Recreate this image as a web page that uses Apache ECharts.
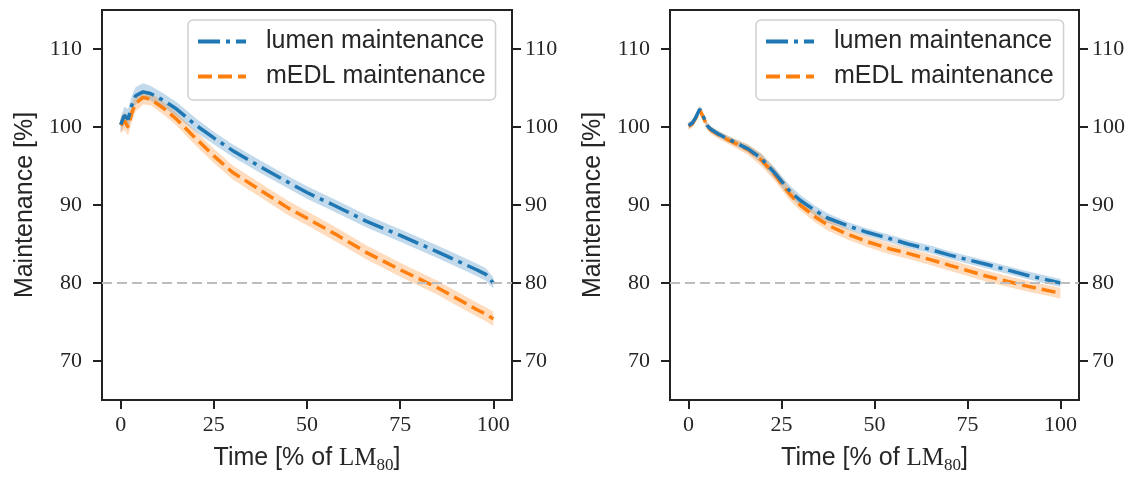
<!DOCTYPE html>
<html><head><meta charset="utf-8">
<script src="https://cdn.jsdelivr.net/npm/echarts@6/dist/echarts.min.js"></script>
<style>html,body{margin:0;padding:0;background:#fff}#c{width:1135px;height:479px}</style>
</head><body><div id="c"></div>
<script>
// ---------- data ----------
const xTicks = [0, 25, 50, 75, 100];
const yTicks = [70, 80, 90, 100, 110];
const threshold = 80;
const seriesNames = ['lumen maintenance', 'mEDL maintenance'];

// left panel
const timeL   = [0, 1, 2, 3, 4, 6, 8, 11.5, 15, 20, 25, 30, 37.5, 45, 50, 57.5, 66, 75, 85, 95.5, 98, 100];
const lumenL  = [100.3, 101.5, 101.0, 102.8, 104.0, 104.5, 104.3, 103.4, 102.3, 100.3, 98.6, 97.0, 94.9, 92.9, 91.6, 89.9, 87.9, 86.1, 84.0, 81.7, 81.1, 80.0];
const lumenLoL= [99.3, 100.3, 99.6, 101.6, 102.9, 103.5, 103.4, 102.5, 101.4, 99.4, 97.8, 96.2, 94.1, 92.1, 90.8, 89.1, 87.1, 85.3, 83.2, 80.9, 80.3, 79.3];
const lumenHiL= [101.2, 102.6, 102.3, 104.0, 105.1, 105.6, 105.3, 104.3, 103.2, 101.2, 99.4, 97.8, 95.7, 93.7, 92.4, 90.7, 88.7, 86.9, 84.8, 82.5, 81.9, 80.7];
const edlL    = [100.2, 100.8, 100.0, 101.8, 103.0, 103.8, 103.6, 102.4, 101.0, 98.6, 96.3, 94.2, 91.9, 89.6, 88.3, 86.3, 83.9, 81.7, 79.4, 76.6, 76.0, 75.4];
const edlLoL  = [99.2, 99.6, 98.9, 100.7, 102.0, 102.9, 102.8, 101.6, 100.2, 97.7, 95.4, 93.3, 91.0, 88.7, 87.4, 85.4, 83.0, 80.8, 78.5, 75.7, 75.1, 74.5];
const edlHiL  = [101.2, 101.9, 101.2, 102.9, 104.0, 104.7, 104.4, 103.2, 101.8, 99.5, 97.2, 95.1, 92.8, 90.5, 89.2, 87.2, 84.8, 82.6, 80.3, 77.5, 76.9, 76.3];

// right panel
const timeR   = [0, 1, 2, 3, 4, 5, 6, 8, 10, 13, 16, 19.5, 23, 27, 30, 34, 37.5, 43, 48, 54, 59, 65, 70, 80, 91, 100];
const lumenR  = [100.2, 100.5, 101.3, 102.3, 101.3, 100.2, 99.7, 99.1, 98.6, 97.9, 97.2, 96.0, 94.2, 91.9, 90.6, 89.3, 88.3, 87.3, 86.5, 85.7, 85.0, 84.3, 83.6, 82.4, 81.0, 80.0];
const lumenLoR= [99.8, 100.1, 100.9, 101.9, 100.9, 99.8, 99.3, 98.7, 98.2, 97.5, 96.7, 95.4, 93.5, 91.2, 89.9, 88.7, 87.7, 86.8, 86.0, 85.2, 84.5, 83.8, 83.1, 81.9, 80.5, 79.5];
const lumenHiR= [100.6, 100.9, 101.7, 102.7, 101.7, 100.6, 100.1, 99.5, 99.0, 98.3, 97.7, 96.6, 94.9, 92.6, 91.3, 89.9, 88.9, 87.8, 87.0, 86.2, 85.5, 84.8, 84.1, 82.9, 81.5, 80.5];
const edlR    = [100.1, 100.4, 101.2, 102.2, 101.2, 100.1, 99.6, 99.0, 98.5, 97.8, 97.1, 95.8, 94.0, 91.5, 90.0, 88.5, 87.4, 86.2, 85.3, 84.4, 83.8, 83.0, 82.3, 80.9, 79.6, 78.7];
const edlLoR  = [99.6, 99.9, 100.7, 101.7, 100.7, 99.6, 99.1, 98.5, 98.0, 97.2, 96.4, 95.0, 93.2, 90.7, 89.3, 87.8, 86.7, 85.5, 84.6, 83.7, 83.1, 82.3, 81.6, 80.2, 78.9, 78.0];
const edlHiR  = [100.6, 100.9, 101.7, 102.7, 101.7, 100.6, 100.1, 99.5, 99.0, 98.4, 97.8, 96.6, 94.8, 92.3, 90.7, 89.2, 88.1, 86.9, 86.0, 85.1, 84.5, 83.7, 83.0, 81.6, 80.3, 79.4];

// ---------- styling ----------
const BLUE = '#1f77b4', ORANGE = '#ff7f0e';
const SERIF = '"Liberation Serif", serif';
const SANS = '"Liberation Sans", Arial, sans-serif';
const TXT = '#262626';
const panels = [
  {t: timeL, lu: lumenL, luLo: lumenLoL, luHi: lumenHiL, ed: edlL, edLo: edlLoL, edHi: edlHiL, left: 102, width: 410, legendLeft: 188},
  {t: timeR, lu: lumenR, luLo: lumenLoR, luHi: lumenHiR, ed: edlR, edLo: edlLoR, edHi: edlHiR, left: 670, width: 409, legendLeft: 756}
];
const blueIcon = 'path://M0,0H22V4H0Z M28,0H32V4H28Z M38,0H48V4H38Z';
const orangeIcon = 'path://M0,0H14V4H0Z M20,0H34V4H20Z M40,0H48V4H40Z';

const pairs = (xs, ys) => xs.map((x, i) => [x, ys[i]]);

const grids = [], xAxes = [], yAxes = [], series = [], legends = [];
panels.forEach((p, gi) => {
  grids.push({left: p.left, top: 10, width: p.width, height: 395, show: true,
    borderColor: '#222', borderWidth: 2, backgroundColor: 'transparent', containLabel: false});
  xAxes.push({
    type: 'value', gridIndex: gi, min: -5, max: 105,
    axisLine: {show: true, onZero: false, lineStyle: {color: '#222', width: 2}},
    axisTick: {show: true, inside: false, length: 9, lineStyle: {color: '#222', width: 2}, customValues: xTicks},
    axisLabel: {show: true, customValues: xTicks, margin: 14, fontFamily: SERIF, fontSize: 22, color: TXT},
    splitLine: {show: false},
    name: '{a|Time [% of }{b|LM}{c|80}{a|]}', nameLocation: 'middle', nameGap: 42,
    nameTextStyle: {rich: {
      a: {fontFamily: SANS, fontSize: 25, color: TXT, lineHeight: 32},
      b: {fontFamily: SERIF, fontSize: 25, color: TXT, lineHeight: 32},
      c: {fontFamily: SERIF, fontSize: 17, color: TXT, lineHeight: 18, verticalAlign: 'bottom'}
    }}
  });
  ['left', 'right'].forEach(pos => {
    yAxes.push({
      type: 'value', gridIndex: gi, position: pos, min: 65, max: 115,
      axisLine: {show: true, onZero: false, lineStyle: {color: '#222', width: 2}},
      axisTick: {show: true, inside: false, length: 9, lineStyle: {color: '#222', width: 2}, customValues: yTicks},
      axisLabel: {show: true, customValues: yTicks, margin: pos === 'left' ? 20 : 13, fontFamily: SERIF, fontSize: 22, color: TXT},
      splitLine: {show: false},
      name: pos === 'left' ? 'Maintenance [%]' : '', nameLocation: 'middle', nameGap: 64,
      nameTextStyle: {fontFamily: SANS, fontSize: 25, color: TXT}
    });
  });
  const yi = 2 * gi;
  // confidence band drawn as one polygon through the axis scales
  const band = (xs, lo, hi, color) => ({
    type: 'custom', xAxisIndex: gi, yAxisIndex: yi, silent: true, z: 1, clip: true,
    data: xs.map((x, i) => [x, lo[i], hi[i]]),
    encode: {x: 0, y: [1, 2]},
    renderItem: (params, api) => {
      if (params.dataIndex !== 0) return null;
      const pts = [];
      for (let i = 0; i < xs.length; i++) pts.push(api.coord([xs[i], hi[i]]));
      for (let i = xs.length - 1; i >= 0; i--) pts.push(api.coord([xs[i], lo[i]]));
      return {type: 'polygon', shape: {points: pts}, style: {fill: color}};
    }
  });
  series.push(band(p.t, p.luLo, p.luHi, 'rgba(31,119,180,0.27)'));
  series.push(band(p.t, p.edLo, p.edHi, 'rgba(255,127,14,0.27)'));
  series.push({
    type: 'line', name: seriesNames[1], xAxisIndex: gi, yAxisIndex: yi, data: pairs(p.t, p.ed),
    symbol: 'none', itemStyle: {color: ORANGE}, lineStyle: {color: ORANGE, width: 3.5, type: [14, 6]}, z: 3,
    markLine: {silent: true, symbol: 'none', label: {show: false}, animation: false,
      lineStyle: {color: '#bdbdbd', type: [10, 5], width: 2}, data: [{yAxis: threshold}]}
  });
  series.push({
    type: 'line', name: seriesNames[0], xAxisIndex: gi, yAxisIndex: yi, data: pairs(p.t, p.lu),
    symbol: 'none', itemStyle: {color: BLUE}, lineStyle: {color: BLUE, width: 3.5, type: [22, 6, 4, 6]}, z: 4
  });
  legends.push({
    left: p.legendLeft, top: 20, orient: 'vertical', itemWidth: 48, itemHeight: 4, itemGap: 10,
    padding: [9, 10, 11, 10], backgroundColor: 'rgba(255,255,255,0.85)', borderColor: '#d0d0d0', borderWidth: 1.5, borderRadius: 5,
    selectedMode: false, itemStyle: {borderWidth: 0},
    textStyle: {fontFamily: SANS, fontSize: 25, color: TXT, padding: [0, 0, 0, 15]},
    data: [{name: seriesNames[0], icon: blueIcon}, {name: seriesNames[1], icon: orangeIcon}], z: 10
  });
});

const chart = echarts.init(document.getElementById('c'), null, {renderer: 'canvas'});
chart.setOption({
  animation: false, backgroundColor: '#fff',
  grid: grids, xAxis: xAxes, yAxis: yAxes, series: series, legend: legends
});
</script></body></html>
